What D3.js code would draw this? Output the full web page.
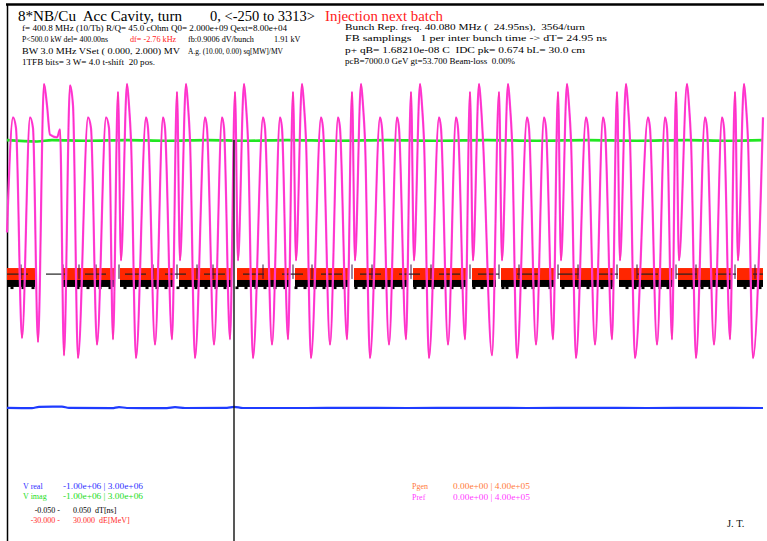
<!DOCTYPE html>
<html>
<head>
<meta charset="utf-8">
<script src="https://cdn.jsdelivr.net/npm/d3@7"></script>
<style>
  body { margin: 0; background: #fff; }
  svg { display: block; font-family: "Liberation Serif", "DejaVu Serif", serif; }
  text { white-space: pre; }
</style>
</head>
<body>
<script>
// ---- data ---------------------------------------------------------------
// x = sample index across the window (0 .. 756)
var tDomain = [0, 756];
var prefDomain = [0, 400];          // kW  (legend 0.00e+00 | 4.00e+05)
var vDomain = [-1.0e6, 3.0e6];      // V   (legend -1.00e+06 | 3.00e+06)
var dtDomain = [-0.05, 0.05];       // ns
var deDomain = [-30, 30];           // MeV

// reflected power trace: [t, kW]
var prefTrace = [
  [0,230],[6,316],[9,308],[15,151],[23,316],[26,308],[31,148],[37,341],[40,325],[43,303],
  [50,301],[53,307],[57,138],[63,340],[66,325],[71,136],[81,316],[84,308],[90,146],[99,316],
  [102,308],[106,150],
  [111,335],[114,209],[120,341],[122,325],[124,299],[129,136],[139,316],[141,308],[148,146],[156,316],[158,308],[165,150],
  [170,335],[173,209],[179,341],[181,325],[183,299],[188,136],[198,316],[200,308],[207,146],[215,316],[217,308],[223,150],
  [228,335],[231,209],[237,341],[239,325],[241,299],[246,136],[256,316],[258,308],[265,146],[273,316],[275,308],[281,150],
  [286,335],[289,209],[295,341],[297,325],[299,299],[304,136],[314,316],[316,308],[323,146],[331,316],[333,308],[340,150],
  [345,335],[348,209],[354,341],[356,325],[358,299],[363,136],[373,316],[375,308],[382,146],[390,316],[392,308],[399,150],
  [404,335],[407,209],[413,341],[415,325],[417,299],[422,136],[432,316],[434,308],[441,146],[449,316],[451,308],[458,150],
  [463,335],[466,209],[472,341],[474,325],[476,299],[485,138],
  [492,335],[495,209],[501,341],[503,325],[505,299],[510,136],[520,316],[522,308],[529,146],[537,316],[539,308],[546,150],
  [551,335],[554,209],[560,341],[562,325],[564,299],[569,136],[579,316],[581,308],[588,146],[596,316],[598,308],[605,150],
  [610,335],[613,209],[619,341],[621,325],[623,299],[628,136],[641,316],[643,308],[650,146],[658,316],[660,308],[665,150],
  [669,335],[672,209],[680,341],[682,325],[684,299],[689,136],[698,316],[700,308],[707,146],[715,316],[717,308],[723,150],
  [728,335],[731,209],[737,341],[739,325],[741,299],[746,136],[756,316]
];

// cavity voltage, imaginary part [t, V]
var vImag = [
  [0,1.99e6],[30,1.98e6],[45,1.99e6],[80,1.985e6],[120,1.99e6],[160,1.985e6],[200,1.99e6],
  [240,1.985e6],[280,1.99e6],[330,1.985e6],[380,1.99e6],[430,1.985e6],[480,1.99e6],
  [530,1.985e6],[580,1.99e6],[630,1.985e6],[680,1.99e6],[720,1.985e6],[756,1.99e6]
];
// cavity voltage, real part [t, V]
var vReal = [
  [0,-1.2e4],[25,-1.4e4],[32,-0.4e4],[55,-0.3e4],[62,-1.2e4],[105,-1.4e4],[112,-0.6e4],
  [120,-1.3e4],[160,-1.4e4],[168,-0.7e4],[178,-1.3e4],[220,-1.2e4],[227,-0.5e4],[236,-1.3e4],
  [300,-1.3e4],[340,-1.2e4],[400,-1.3e4],[460,-1.2e4],[520,-1.3e4],[580,-1.2e4],[640,-1.3e4],
  [700,-1.2e4],[756,-1.3e4]
];

// bunch trains (filled buckets) [t start, t end]
var trains = [
  [0,28],[55,108],[113,167],[172,225],[230,283],[288,342],[347,401],[406,460],[465,489],
  [494,548],[553,607],[612,666],[671,725],[730,756]
];
var deBand = [0.5, -0.85];          // MeV spread of the bunches
var dtBand = [-0.0014, -0.0027];    // ns
var dtBumpLow = -0.0031;
var dtBumps = [5,16,26,71,81,93,103,118,128,140,150,159,171,179,189,199,209,218,230,239,249,258,268,278,
  289,298,308,317,328,337,349,357,367,376,386,396,408,416,426,435,445,455,467,475,496,500,518,526,543,
  556,572,581,595,604,620,628,636,645,653,661,678,686,695,703,715,723,738,746,753];
// batch phase markers
var dashStart = [0,39,78,118,158,197,236,275,314,353,392,432,471,510,551,590,630,669,708,746];
var dashLen = 21;
var dashDt = -0.0003;
var tickT = [14,56,72,89,112,146,170,190,206,256,286,305,345,365,404,424,463,492,512,551,571,610,630,669,689,728,748];
var tickDt = [0.0015, -0.0012];
var cursorT = 227;

// header and legend text  [text, colour, x, width or 0 for natural]
var titleText = "8*NB/Cu  Acc Cavity, turn";
var turnText = "0, <-250 to 3313>";
var statusText = "Injection next batch";
var infoLeft = [
  [["f= 400.8 MHz (10/Tb) R/Q= 45.0 cOhm Q0= 2.000e+09 Qext=8.00e+04", "#000", 22, 265]],
  [["P<500.0 kW del= 400.00ns", "#000", 22, 86], ["df= -2.76 kHz", "#ff2020", 130, 0],
   ["fb:0.9006 dV/bunch", "#000", 188, 0], ["1.91 kV", "#000", 274, 0]],
  [["BW 3.0 MHz VSet ( 0.000, 2.000) MV", "#000", 22, 158], ["A.g. (10.00, 0.00) sq[MW]/MV", "#000", 188, 95]],
  [["1TFB bits= 3 W= 4.0 t-shift  20 pos.", "#000", 22, 133]]
];
var infoRight = [
  ["Bunch Rep. freq. 40.080 MHz (  24.95ns),  3564/turn", 240],
  ["FB samplings   1 per inter bunch time -> dT= 24.95 ns", 262],
  ["p+ qB= 1.68210e-08 C  IDC pk= 0.674 bL= 30.0 cm", 240],
  ["pcB=7000.0 GeV gt=53.700 Beam-loss  0.00%", 170]
];
var legendLeft = [
  ["V real", "-1.00e+06 | 3.00e+06", "#3030ff"],
  ["V imag", "-1.00e+06 | 3.00e+06", "#22dd22"]
];
var legendScale = [
  ["-0.050 -", "0.050  dT[ns]", "#000"],
  ["-30.000 -", "30.000  dE[MeV]", "#ff2a2a"]
];
var legendRight = [
  ["Pgen", "0.00e+00 | 4.00e+05", "#ff7a3a"],
  ["Pref", "0.00e+00 | 4.00e+05", "#ff40ff"]
];
var signature = "J. T.";

// ---- drawing ------------------------------------------------------------
var width = 767, height = 541;
var svg = d3.select("body").append("svg")
  .attr("width", width).attr("height", height);

var x = d3.scaleLinear().domain(tDomain).range([7, 763]);
var yP = d3.scaleLinear().domain(prefDomain).range([540, 5]);
var yV = d3.scaleLinear().domain(vDomain).range([540, 5]);
var yT = d3.scaleLinear().domain(dtDomain).range([540, 5]);
var yE = d3.scaleLinear().domain(deDomain).range([540, 5]);

// frame
svg.append("line").attr("x1", 6).attr("x2", 764).attr("y1", 4.5).attr("y2", 4.5)
  .attr("stroke", "#000").attr("stroke-width", 2.5);
svg.append("line").attr("x1", 7.5).attr("x2", 7.5).attr("y1", 4).attr("y2", 541)
  .attr("stroke", "#000").attr("stroke-width", 1.5);

// bunch energy band (red) and timing band (black)
svg.append("g").selectAll("rect").data(trains).enter().append("rect")
  .attr("x", function(d) { return x(d[0]); })
  .attr("width", function(d) { return x(d[1]) - x(d[0]); })
  .attr("y", yE(deBand[0]))
  .attr("height", yE(deBand[1]) - yE(deBand[0]))
  .attr("fill", "#ff2600");
svg.append("g").selectAll("rect").data(trains).enter().append("rect")
  .attr("x", function(d) { return x(d[0]); })
  .attr("width", function(d) { return x(d[1]) - x(d[0]); })
  .attr("y", yT(dtBand[0]))
  .attr("height", yT(dtBand[1]) - yT(dtBand[0]))
  .attr("fill", "#000");
svg.append("g").selectAll("rect").data(dtBumps).enter().append("rect")
  .attr("x", function(d) { return x(d) - 1.5; })
  .attr("width", 3)
  .attr("y", yT(dtBand[1]) - 0.5)
  .attr("height", yT(dtBumpLow) - yT(dtBand[1]) + 0.5)
  .attr("fill", "#000");

// phase markers
svg.append("g").selectAll("line").data(dashStart).enter().append("line")
  .attr("x1", function(d) { return x(d); })
  .attr("x2", function(d) { return Math.min(x(d + dashLen), 763); })
  .attr("y1", yT(dashDt)).attr("y2", yT(dashDt))
  .attr("stroke", "#222").attr("stroke-width", 1.2);
svg.append("g").selectAll("line").data(tickT).enter().append("line")
  .attr("x1", function(d) { return x(d); }).attr("x2", function(d) { return x(d); })
  .attr("y1", yT(tickDt[0])).attr("y2", yT(tickDt[1]))
  .attr("stroke", "#3a1040").attr("stroke-width", 1);

// voltages
var vLine = d3.line()
  .x(function(d) { return x(d[0]); })
  .y(function(d) { return yV(d[1]); })
  .curve(d3.curveMonotoneX);
svg.append("path").datum(vImag).attr("d", vLine)
  .attr("fill", "none").attr("stroke", "#22e622").attr("stroke-width", 2.6);
svg.append("path").datum(vReal).attr("d", vLine)
  .attr("fill", "none").attr("stroke", "#1f3cff").attr("stroke-width", 2.2);

// reflected power
var pLine = d3.line()
  .x(function(d) { return x(d[0]); })
  .y(function(d) { return yP(d[1]); })
  .curve(d3.curveMonotoneX);
svg.append("path").datum(prefTrace).attr("d", pLine)
  .attr("fill", "none").attr("stroke", "#ff44ee").attr("stroke-width", 2.2);
svg.append("path").datum(prefTrace).attr("d", pLine)
  .attr("fill", "none").attr("stroke", "#ff2a9a").attr("stroke-width", 0.7);

// cursor
svg.append("line")
  .attr("x1", x(cursorT)).attr("x2", x(cursorT))
  .attr("y1", yV(vImag[0][1])).attr("y2", 541)
  .attr("stroke", "#111").attr("stroke-width", 1.4);

// header
svg.append("text").attr("x", 18).attr("y", 21).attr("font-size", 14)
  .attr("textLength", 164).attr("lengthAdjust", "spacingAndGlyphs").text(titleText);
svg.append("text").attr("x", 210).attr("y", 21).attr("font-size", 14)
  .attr("textLength", 105).attr("lengthAdjust", "spacingAndGlyphs").text(turnText);
svg.append("text").attr("x", 325).attr("y", 21).attr("font-size", 14).attr("fill", "#ff2020")
  .attr("textLength", 118).attr("lengthAdjust", "spacingAndGlyphs").text(statusText);

function infoText(xp, yp, s, col, w) {
  var t = svg.append("text").attr("x", xp).attr("y", yp).attr("font-size", 8.2)
    .attr("fill", col).text(s);
  if (w) t.attr("textLength", w).attr("lengthAdjust", "spacingAndGlyphs");
}
var infoY = [31, 42, 53.5, 65];
infoLeft.forEach(function(row, i) {
  row.forEach(function(s) { infoText(s[2], infoY[i], s[0], s[1], s[3]); });
});
infoRight.forEach(function(s, i) {
  infoText(345, infoY[i] - 1, s[0], "#000", s[1]);
});

// legends
var legY = [489, 498.5];
legendLeft.forEach(function(s, i) {
  svg.append("text").attr("x", 23).attr("y", legY[i]).attr("font-size", 8).attr("fill", s[2]).text(s[0]);
  svg.append("text").attr("x", 63).attr("y", legY[i]).attr("font-size", 8).attr("fill", s[2])
    .attr("textLength", 80).attr("lengthAdjust", "spacingAndGlyphs").text(s[1]);
});
var scY = [513, 523];
legendScale.forEach(function(s, i) {
  svg.append("text").attr("x", 60).attr("y", scY[i]).attr("font-size", 8).attr("fill", s[2])
    .attr("text-anchor", "end").text(s[0]);
  svg.append("text").attr("x", 73).attr("y", scY[i]).attr("font-size", 8).attr("fill", s[2]).text(s[1]);
});
var legRY = [489, 500];
legendRight.forEach(function(s, i) {
  svg.append("text").attr("x", 412).attr("y", legRY[i]).attr("font-size", 8).attr("fill", s[2]).text(s[0]);
  svg.append("text").attr("x", 453).attr("y", legRY[i]).attr("font-size", 8).attr("fill", s[2])
    .attr("textLength", 77).attr("lengthAdjust", "spacingAndGlyphs").text(s[1]);
});
svg.append("text").attr("x", 727).attr("y", 527).attr("font-size", 10.5).attr("fill", "#111").text(signature);
</script>
</body>
</html>
